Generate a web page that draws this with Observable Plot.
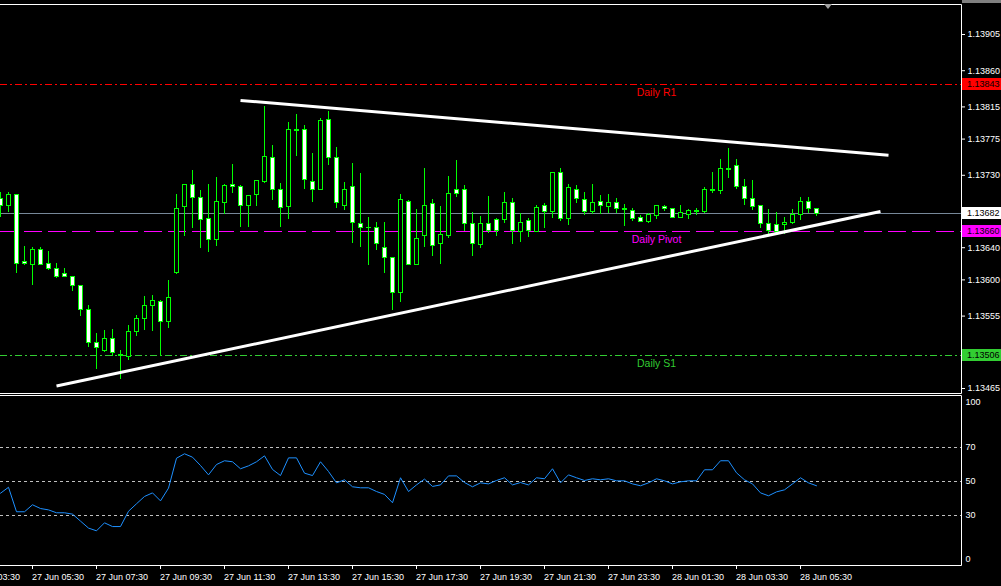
<!DOCTYPE html>
<html>
<head>
<meta charset="utf-8">
<script src="https://cdn.jsdelivr.net/npm/d3@7"></script>
<script src="https://cdn.jsdelivr.net/npm/@observablehq/plot@0.6"></script>
<style>
  html, body { margin: 0; padding: 0; background: #000; }
  #chart { position: relative; width: 1001px; height: 586px; overflow: hidden; background: #000; }
  #chart svg { position: absolute; left: 0; overflow: hidden; }
</style>
</head>
<body>
<div id="chart"></div>
<script>
// EURUSD, M15 — candles with daily pivot levels, trend lines and RSI(14)

const firstBar = "27 Jun 04:30";
const barMinutes = 15;
const year = "2019";

const open = [
  1.13700, 1.13692, 1.13705, 1.13622, 1.13618, 1.13637, 1.13620, 1.13613, 1.13607, 1.13603,
  1.13592, 1.13563, 1.13521, 1.13512, 1.13527, 1.13507, 1.13504, 1.13535, 1.13551, 1.13567,
  1.13573, 1.13548, 1.13608, 1.13690, 1.13718, 1.13702, 1.13676, 1.13650, 1.13696, 1.13718,
  1.13715, 1.13692, 1.13705, 1.13722, 1.13752, 1.13712, 1.13690, 1.13786, 1.13786, 1.13722,
  1.13712, 1.13799, 1.13752, 1.13692, 1.13716, 1.13670, 1.13665, 1.13665, 1.13640, 1.13627,
  1.13584, 1.13697, 1.13619, 1.13654, 1.13694, 1.13644, 1.13654, 1.13712, 1.13712, 1.13669,
  1.13643, 1.13669, 1.13674, 1.13674, 1.13695, 1.13659, 1.13673, 1.13660, 1.13692, 1.13684,
  1.13733, 1.13676, 1.13712, 1.13699, 1.13684, 1.13697, 1.13691, 1.13696, 1.13688, 1.13686,
  1.13677, 1.13672, 1.13680, 1.13691, 1.13688, 1.13677, 1.13681, 1.13686, 1.13685, 1.13712,
  1.13711, 1.13738, 1.13741, 1.13716, 1.13700, 1.13692, 1.13669, 1.13668, 1.13668, 1.13671,
  1.13681, 1.13697, 1.13688
];
const high = [
  1.13709, 1.13709, 1.13706, 1.13642, 1.13640, 1.13640, 1.13635, 1.13620, 1.13614, 1.13604,
  1.13593, 1.13568, 1.13533, 1.13537, 1.13538, 1.13512, 1.13543, 1.13556, 1.13579, 1.13581,
  1.13575, 1.13599, 1.13706, 1.13719, 1.13736, 1.13711, 1.13719, 1.13727, 1.13719, 1.13743,
  1.13717, 1.13705, 1.13724, 1.13815, 1.13767, 1.13720, 1.13796, 1.13806, 1.13792, 1.13757,
  1.13801, 1.13809, 1.13765, 1.13721, 1.13745, 1.13732, 1.13677, 1.13671, 1.13671, 1.13628,
  1.13706, 1.13699, 1.13687, 1.13738, 1.13700, 1.13691, 1.13729, 1.13748, 1.13717, 1.13684,
  1.13679, 1.13704, 1.13676, 1.13709, 1.13701, 1.13682, 1.13676, 1.13692, 1.13695, 1.13734,
  1.13738, 1.13718, 1.13717, 1.13709, 1.13718, 1.13705, 1.13706, 1.13701, 1.13694, 1.13689,
  1.13680, 1.13683, 1.13692, 1.13692, 1.13689, 1.13692, 1.13688, 1.13689, 1.13715, 1.13734,
  1.13750, 1.13763, 1.13750, 1.13725, 1.13724, 1.13692, 1.13688, 1.13684, 1.13677, 1.13688,
  1.13702, 1.13702, 1.13689
];
const low = [
  1.13677, 1.13684, 1.13608, 1.13618, 1.13593, 1.13618, 1.13612, 1.13602, 1.13603, 1.13585,
  1.13554, 1.13516, 1.13489, 1.13510, 1.13505, 1.13476, 1.13500, 1.13530, 1.13537, 1.13536,
  1.13505, 1.13540, 1.13607, 1.13654, 1.13664, 1.13639, 1.13634, 1.13642, 1.13681, 1.13707,
  1.13665, 1.13665, 1.13691, 1.13720, 1.13699, 1.13665, 1.13675, 1.13753, 1.13712, 1.13696,
  1.13711, 1.13742, 1.13689, 1.13686, 1.13645, 1.13640, 1.13618, 1.13637, 1.13608, 1.13562,
  1.13572, 1.13618, 1.13618, 1.13640, 1.13629, 1.13619, 1.13651, 1.13702, 1.13660, 1.13629,
  1.13639, 1.13658, 1.13654, 1.13670, 1.13644, 1.13646, 1.13653, 1.13660, 1.13664, 1.13676,
  1.13673, 1.13668, 1.13695, 1.13680, 1.13681, 1.13681, 1.13682, 1.13682, 1.13666, 1.13673,
  1.13671, 1.13670, 1.13675, 1.13685, 1.13676, 1.13676, 1.13675, 1.13680, 1.13682, 1.13707,
  1.13706, 1.13726, 1.13712, 1.13692, 1.13686, 1.13664, 1.13656, 1.13656, 1.13656, 1.13669,
  1.13674, 1.13682, 1.13679
];
const close = [
  1.13692, 1.13706, 1.13620, 1.13620, 1.13637, 1.13619, 1.13613, 1.13603, 1.13603, 1.13593,
  1.13562, 1.13522, 1.13515, 1.13527, 1.13509, 1.13505, 1.13535, 1.13552, 1.13567, 1.13574,
  1.13548, 1.13577, 1.13688, 1.13718, 1.13702, 1.13675, 1.13649, 1.13697, 1.13717, 1.13715,
  1.13692, 1.13704, 1.13723, 1.13753, 1.13712, 1.13689, 1.13786, 1.13785, 1.13724, 1.13712,
  1.13798, 1.13751, 1.13695, 1.13712, 1.13671, 1.13665, 1.13664, 1.13644, 1.13627, 1.13584,
  1.13699, 1.13619, 1.13651, 1.13692, 1.13642, 1.13656, 1.13707, 1.13707, 1.13669, 1.13644,
  1.13669, 1.13661, 1.13661, 1.13695, 1.13661, 1.13671, 1.13661, 1.13689, 1.13685, 1.13733,
  1.13676, 1.13714, 1.13700, 1.13685, 1.13696, 1.13692, 1.13695, 1.13688, 1.13687, 1.13676,
  1.13672, 1.13681, 1.13692, 1.13688, 1.13677, 1.13683, 1.13686, 1.13685, 1.13712, 1.13711,
  1.13738, 1.13737, 1.13716, 1.13700, 1.13690, 1.13670, 1.13661, 1.13660, 1.13671, 1.13681,
  1.13697, 1.13688, 1.13682
];
const rsi = [
  43.1, 46.6, 32.2, 32.2, 36.3, 34.1, 33.3, 31.6, 31.6, 30.8,
  26.7, 22.6, 21.0, 25.7, 23.5, 23.5, 32.5, 36.9, 41.2, 43.3,
  38.6, 46.1, 63.7, 66.3, 64.3, 59.4, 53.9, 60.0, 62.2, 61.6,
  57.5, 59.2, 61.6, 65.1, 57.1, 53.5, 63.9, 63.9, 54.9, 53.5,
  61.6, 55.9, 49.2, 51.0, 46.9, 46.3, 46.3, 44.1, 42.4, 37.5,
  52.2, 44.1, 48.0, 51.4, 47.1, 48.0, 53.3, 53.3, 49.4, 46.9,
  49.2, 48.6, 50.6, 52.2, 48.0, 49.4, 48.0, 52.2, 51.6, 57.5,
  49.2, 53.9, 52.2, 50.6, 51.6, 51.0, 51.6, 50.4, 50.4, 48.6,
  47.5, 49.2, 51.6, 50.4, 48.6, 49.8, 50.4, 50.4, 56.9, 56.9,
  62.2, 62.2, 55.1, 51.0, 48.6, 43.3, 41.6, 43.9, 45.1, 48.6,
  52.2, 49.2, 47.5
];

// Right price scale labels
const priceTicks = [1.13905, 1.13860, 1.13815, 1.13775, 1.13730, 1.13640, 1.13600, 1.13555, 1.13465];
// Time scale labels
const timeTickLabels = [
  "27 Jun 03:30", "27 Jun 05:30", "27 Jun 07:30", "27 Jun 09:30", "27 Jun 11:30",
  "27 Jun 13:30", "27 Jun 15:30", "27 Jun 17:30", "27 Jun 19:30", "27 Jun 21:30",
  "27 Jun 23:30", "28 Jun 01:30", "28 Jun 03:30", "28 Jun 05:30"
];

// Daily pivot levels
const levelNames = ["Daily R1", "Daily Pivot", "Daily S1"];
const levelPrices = [1.13843, 1.13660, 1.13506];
const bidPrice = 1.13682;

// Trend lines: anchor bars (index from first bar) and prices
const upperTrendBars = [30, 111];
const upperTrendPrices = [1.13823, 1.13755];
const lowerTrendBars = [7, 110];
const lowerTrendPrices = [1.13468, 1.13685];

// RSI levels and scale labels
const rsiLevels = [70, 50, 30];
const rsiScaleLabels = [100, 70, 50, 30, 0];

// ---------------------------------------------------------------
const parseTime = d3.utcParse("%Y %d %b %H:%M");
const t0 = parseTime(`${year} ${firstBar}`);
const barTime = i => d3.utcMinute.offset(t0, i * barMinutes);
const bars = open.map((o, i) => ({
  time: barTime(i), open: o, high: high[i], low: low[i], close: close[i]
}));
const tickTimes = timeTickLabels.map(s => parseTime(`${year} ${s}`));
const xDomain = [barTime(0), barTime(120)];
const xRange = [0, 960];
const halfBody = 2 * (barMinutes * 60000) / 8; // 2px either side of the bar centre

const font = "'Liberation Sans', Arial, sans-serif";
const levelColors = ["#ff0000", "#ff00ff", "#32cd32"];
const levelDash = ["7,3,2,3", "18,6", "7,3,2,3"];
const levels = levelNames.map((name, i) => ({ name, price: levelPrices[i], color: levelColors[i], dash: levelDash[i] }));

const trendUpper = upperTrendBars.map((b, i) => ({ time: barTime(b), price: upperTrendPrices[i] }));
const trendLower = lowerTrendBars.map((b, i) => ({ time: barTime(b), price: lowerTrendPrices[i] }));

const container = document.getElementById("chart");
const crisp = { shapeRendering: "crispEdges" };

// ---- main price pane
const main = Plot.plot({
  width: 1001,
  height: 395,
  marginLeft: 0,
  marginRight: 40,
  marginTop: 4,
  marginBottom: 2,
  style: { background: "#000", color: "#fff", fontFamily: font, fontSize: "9px" },
  x: { type: "utc", domain: xDomain, range: xRange, axis: null },
  y: {
    domain: [1.13465, 1.13905], range: [388, 34],
    axis: "right", ticks: priceTicks, tickFormat: d => d.toFixed(5),
    tickSize: 3, tickPadding: 3, label: null
  },
  marks: [
    ...levels.map(l => Plot.ruleY([l.price], { stroke: l.color, strokeDasharray: l.dash, ...crisp })),
    Plot.ruleY([bidPrice], { stroke: "#778899", ...crisp }),
    Plot.ruleX(bars, { x: "time", y1: "low", y2: "high", stroke: "#00ff00", ...crisp }),
    Plot.rect(bars, {
      x1: d => new Date(+d.time - halfBody),
      x2: d => new Date(+d.time + halfBody),
      y1: "open", y2: "close",
      fill: d => d.close < d.open ? "#ffffff" : "#000000",
      stroke: "#00ff00", strokeWidth: 1, ...crisp
    }),
    Plot.line(trendUpper, { x: "time", y: "price", stroke: "#ffffff", strokeWidth: 3, strokeLinecap: "butt" }),
    Plot.line(trendLower, { x: "time", y: "price", stroke: "#ffffff", strokeWidth: 3, strokeLinecap: "butt" }),
    Plot.text(levels, {
      x: () => barTime(82), y: "price", text: "name", fill: "color",
      dy: 8, fontSize: 10.5, textAnchor: "middle"
    })
  ]
});
main.style.top = "0px";
container.appendChild(main);

// pane frame, scroll marker and price boxes on the right scale
{
  const svg = d3.select(main);
  svg.append("path").attr("d", "M0,4.5H961.5V393.5H0").attr("fill", "none").attr("stroke", "#fff");
  svg.append("rect").attr("x", 962).attr("y", 0).attr("width", 39).attr("height", 3).attr("fill", "#7f7f7f");
  svg.append("path").attr("d", "M824,4L832,4L828,9Z").attr("fill", "#a0a0a0");
  const ys = main.scale("y");
  const yPos = ys.apply ? v => ys.apply(v) : d3.scaleLinear(ys.domain, ys.range);
  const boxes = [
    { v: levelPrices[0], bg: "#ff0000", fg: "#000" },
    { v: bidPrice, bg: "#ffffff", fg: "#000" },
    { v: levelPrices[1], bg: "#ff00ff", fg: "#000" },
    { v: levelPrices[2], bg: "#32cd32", fg: "#000" }
  ];
  const g = svg.append("g")
    .attr("font-family", font).attr("font-size", 9).attr("text-anchor", "start");
  for (const b of boxes) {
    const y = Math.round(yPos(b.v));
    g.append("rect").attr("x", 962).attr("y", y - 6).attr("width", 39).attr("height", 12).attr("fill", b.bg);
    g.append("text").attr("x", 967).attr("y", y).attr("dy", "0.32em")
      .attr("text-anchor", "start").attr("fill", b.fg).text(b.v.toFixed(5));
  }
}

// ---- RSI pane with time scale
const rsiData = bars.map((b, i) => ({ time: b.time, value: rsi[i] }));
const osc = Plot.plot({
  width: 1001,
  height: 191,
  marginLeft: 0,
  marginRight: 40,
  marginTop: 1,
  marginBottom: 20,
  style: { background: "#000", color: "#fff", fontFamily: font, fontSize: "9px" },
  x: {
    type: "utc", domain: xDomain, range: xRange,
    axis: "bottom", ticks: tickTimes, tickFormat: () => "", tickSize: 3, label: null
  },
  y: { domain: [0, 100], range: [171, 1], axis: null },
  marks: [
    Plot.ruleY(rsiLevels, { stroke: "#c0c0c0", strokeDasharray: "3,3", ...crisp }),
    Plot.line(rsiData, { x: "time", y: "value", stroke: "#1e90ff", strokeWidth: 1 }),
    Plot.text(rsiScaleLabels.filter(v => v > 0 && v < 100), {
      y: d => d, text: d => String(d), frameAnchor: "right", dx: 4, textAnchor: "start", fill: "#fff", fontSize: 9
    }),
    Plot.text([100], { y: d => d, text: d => String(d), frameAnchor: "right", dx: 4, dy: 6, textAnchor: "start", fill: "#fff", fontSize: 9 }),
    Plot.text([0], { y: d => d, text: d => String(d), frameAnchor: "right", dx: 4, dy: -7, textAnchor: "start", fill: "#fff", fontSize: 9 }),
    Plot.text(tickTimes, {
      x: d => d, text: (d, i) => timeTickLabels[i], frameAnchor: "bottom",
      textAnchor: "start", lineAnchor: "bottom", dy: 13, dx: -0.5, fill: "#fff", fontSize: 9
    })
  ]
});
osc.style.top = "395px";
container.appendChild(osc);
d3.select(osc).append("path").attr("d", "M0,0.5H961.5V170.5H0").attr("fill", "none").attr("stroke", "#fff");
</script>
</body>
</html>
